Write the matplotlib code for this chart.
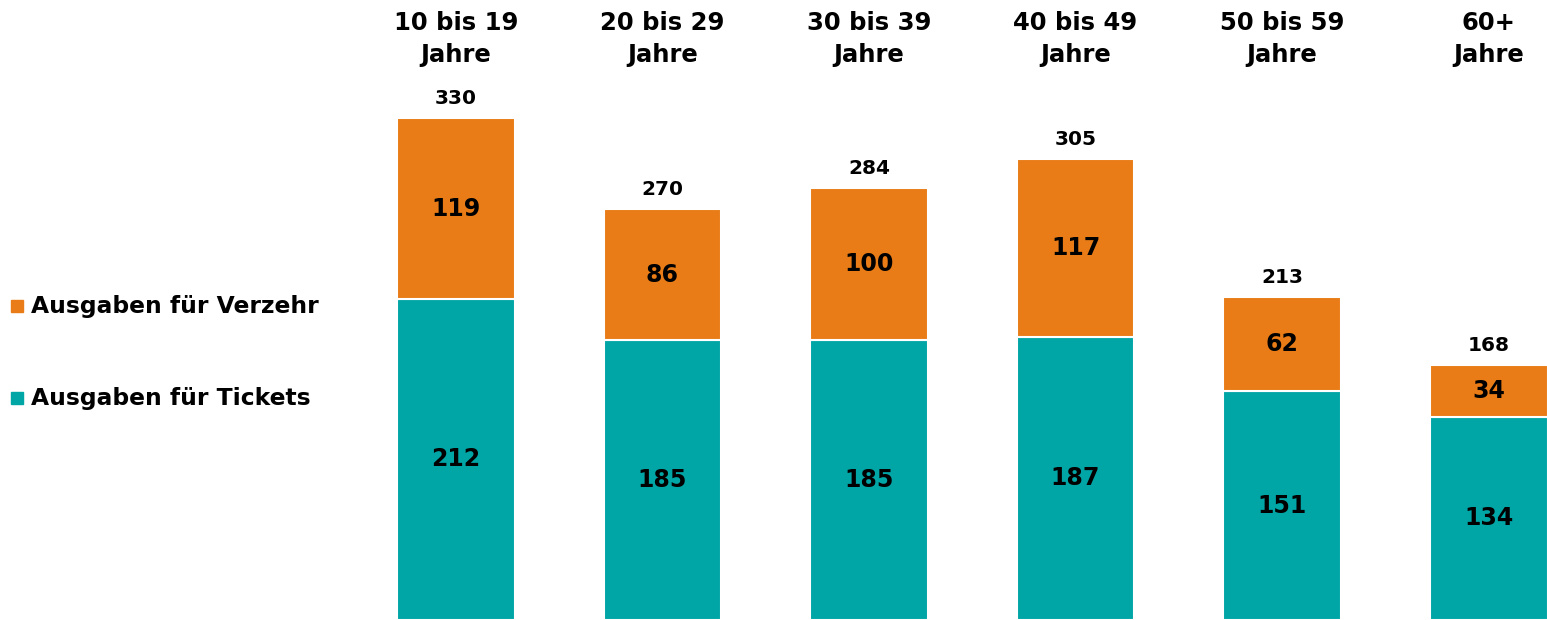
import matplotlib
matplotlib.use("Agg")
import matplotlib.pyplot as plt
import matplotlib.patches as mpatches

categories = ["10 bis 19\nJahre", "20 bis 29\nJahre", "30 bis 39\nJahre",
              "40 bis 49\nJahre", "50 bis 59\nJahre", "60+\nJahre"]
tickets = [212, 185, 185, 187, 151, 134]
verzehr = [119, 86, 100, 117, 62, 34]
totals = [330, 270, 284, 305, 213, 168]
series_names = ["Ausgaben für Verzehr", "Ausgaben für Tickets"]

ORANGE = "#E97C16"
TEAL = "#00A5A6"

plt.rcParams["font.family"] = ["DejaVu Sans"]
plt.rcParams["font.weight"] = "bold"

fig = plt.figure(figsize=(15.47, 6.2), dpi=100)
ax = fig.add_axes([0, 0, 1, 1])
ax.set_xlim(-2.208, 5.283)
ax.set_ylim(0, 409.2)
ax.axis("off")

x = list(range(len(categories)))
w = 0.571
ax.bar(x, tickets, width=w, color=TEAL, edgecolor="white", linewidth=1.5)
ax.bar(x, verzehr, width=w, bottom=tickets, color=ORANGE, edgecolor="white", linewidth=1.5)

for i in x:
    ax.text(i, tickets[i] / 2, str(tickets[i]), ha="center", va="center",
            fontsize=17, fontweight="bold", color="black")
    ax.text(i, tickets[i] + verzehr[i] / 2, str(verzehr[i]), ha="center", va="center",
            fontsize=17, fontweight="bold", color="black")
    ax.text(i, tickets[i] + verzehr[i] + 7, str(totals[i]), ha="center", va="bottom",
            fontsize=14.5, fontweight="bold", color="black")
    ax.annotate(categories[i], xy=(i, 1), xycoords=("data", "axes fraction"),
                xytext=(0, -11), textcoords="offset pixels",
                ha="center", va="top", fontsize=17.5, fontweight="bold",
                linespacing=1.4, color="black")

# legend
leg_items = [(series_names[0], ORANGE, 306), (series_names[1], TEAL, 398)]
for name, col, ypix in leg_items:
    yf = 1 - ypix / 620
    fig.patches.append(mpatches.Rectangle((11 / 1547, yf - 6 / 620), 12 / 1547, 12 / 620,
                                          transform=fig.transFigure, color=col))
    fig.text(31 / 1547, yf, name, ha="left", va="center", fontsize=16.8,
             fontweight="bold", color="black")

fig.savefig("out.png", dpi=100)
